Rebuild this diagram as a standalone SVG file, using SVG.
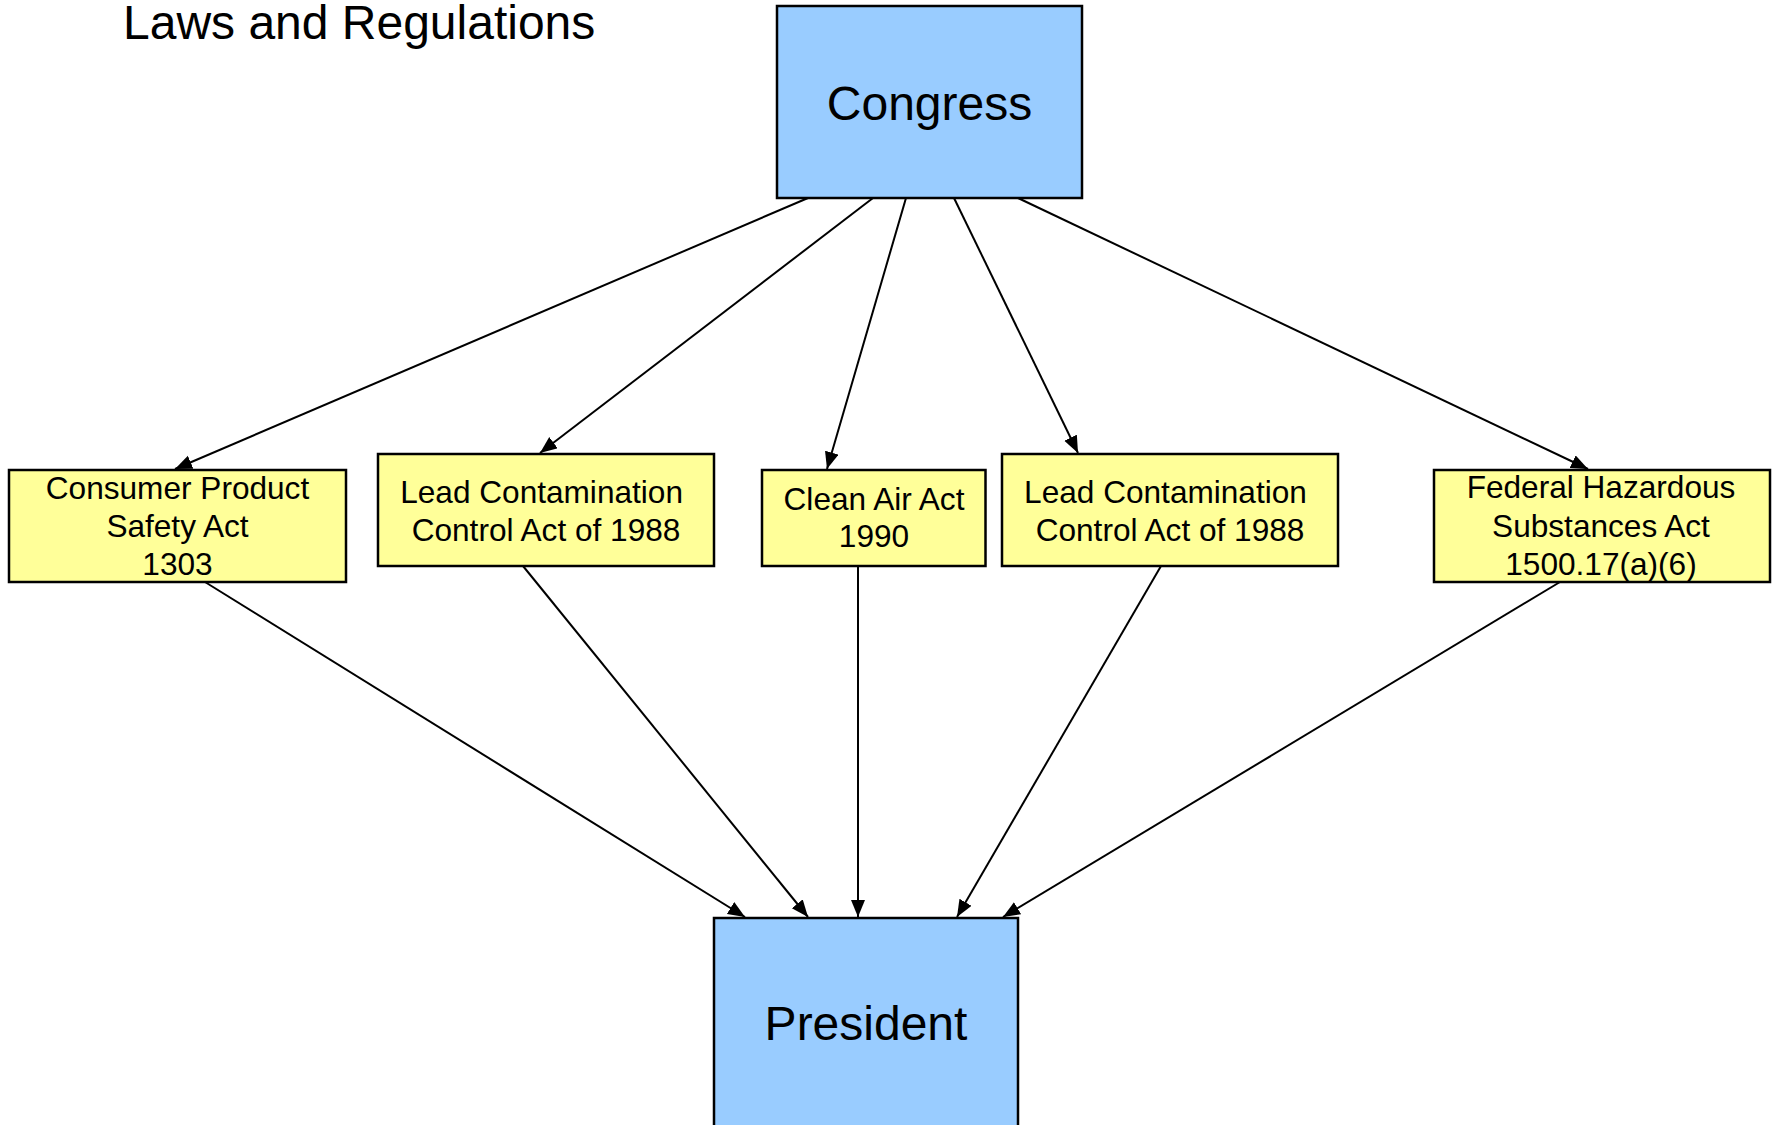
<svg xmlns="http://www.w3.org/2000/svg" width="1777" height="1125" viewBox="0 0 1777 1125">
<style>
.big{fill:#99CCFF;stroke:#000;stroke-width:2.5}
.law{fill:#FFFF99;stroke:#000;stroke-width:2.5}
text{font-family:"Liberation Sans",Arial,sans-serif;fill:#000}
.t48{font-size:48px;text-anchor:middle}
.t32{font-size:31.6px;text-anchor:middle}
.c{stroke:#000;stroke-width:2;fill:none;marker-end:url(#ah)}
</style>
<defs>
<marker id="ah" markerUnits="userSpaceOnUse" markerWidth="18" markerHeight="15" refX="17" refY="7" orient="auto">
<path d="M0,0 L17,7 L0,14 z" fill="#000"/>
</marker>
</defs>
<text x="123" y="39" style="font-size:48px">Laws and Regulations</text>
<g id="connectors">
<line class="c" x1="808" y1="198" x2="175" y2="469"/>
<line class="c" x1="873" y1="198" x2="540" y2="453"/>
<line class="c" x1="906" y1="198" x2="827" y2="469"/>
<line class="c" x1="954" y1="198" x2="1078" y2="453"/>
<line class="c" x1="1018" y1="198" x2="1588" y2="469"/>
<line class="c" x1="205" y1="582" x2="745" y2="917"/>
<line class="c" x1="523" y1="566" x2="808" y2="917"/>
<line class="c" x1="858" y1="566" x2="858" y2="917"/>
<line class="c" x1="1161" y1="566" x2="957" y2="917"/>
<line class="c" x1="1560" y1="582" x2="1003" y2="917"/>
</g>
<g id="congress">
<rect class="big" x="777" y="6" width="305" height="192"/>
<text class="t48" x="929.5" y="120">Congress</text>
</g>
<g id="consumer">
<rect class="law" x="9" y="470" width="337" height="112"/>
<text class="t32" x="177.5" y="499">Consumer Product</text>
<text class="t32" x="177.5" y="537">Safety Act</text>
<text class="t32" x="177.5" y="575">1303</text>
</g>
<g id="lead1">
<rect class="law" x="378" y="454" width="336" height="112"/>
<text class="t32" x="541.6" y="502.5">Lead Contamination</text>
<text class="t32" x="546" y="540.5">Control Act of 1988</text>
</g>
<g id="cleanair">
<rect class="law" x="762" y="470" width="223.5" height="96"/>
<text class="t32" x="874" y="510">Clean Air Act</text>
<text class="t32" x="874" y="547">1990</text>
</g>
<g id="lead2">
<rect class="law" x="1002" y="454" width="336" height="112"/>
<text class="t32" x="1165.5" y="502.5">Lead Contamination</text>
<text class="t32" x="1170" y="540.5">Control Act of 1988</text>
</g>
<g id="federal">
<rect class="law" x="1434" y="470" width="336" height="112"/>
<text class="t32" x="1601" y="498">Federal Hazardous</text>
<text class="t32" x="1601" y="537">Substances Act</text>
<text class="t32" x="1601" y="575">1500.17(a)(6)</text>
</g>
<g id="president">
<rect class="big" x="714" y="918" width="304" height="215"/>
<text class="t48" x="866" y="1040">President</text>
</g>
</svg>
